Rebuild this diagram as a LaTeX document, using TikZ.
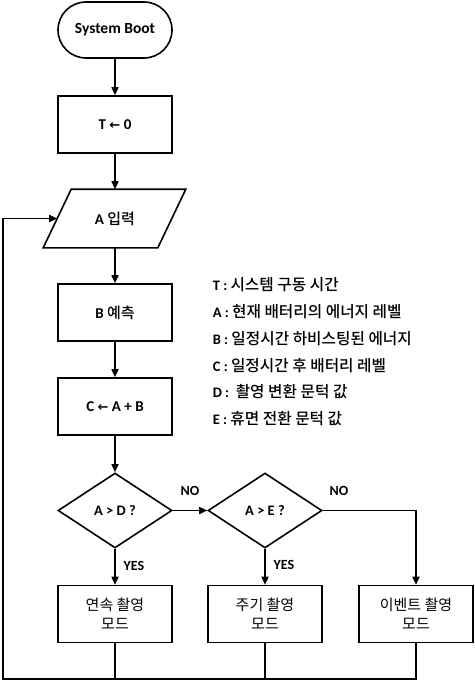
\documentclass[tikz,border=0pt]{standalone}
\usepackage{fontspec}
\setmainfont{Carlito}
\newfontfamily\kr{Noto Sans CJK KR}
\newfontfamily\krm{Noto Sans CJK KR Medium}
\newfontfamily\sym{DejaVu Sans}
\usetikzlibrary{shapes.geometric,shapes.misc,arrows.meta}
\begin{document}
\begin{tikzpicture}[x=1pt,y=-1pt,
  every path/.style={line width=1.6pt},
  arr/.style={-{Triangle[length=8pt,width=7pt]}},
  procbox/.style={draw,rectangle,minimum width=114pt,minimum height=57pt,inner sep=0pt,font=\bfseries\fontsize{15}{18}\selectfont,align=center},
  modebox/.style={draw,rectangle,minimum width=114pt,minimum height=57pt,inner sep=0pt,font=\kr\fontsize{15}{19.5}\selectfont,align=center},
  decbox/.style={draw,diamond,aspect=1.52,minimum width=114pt,minimum height=75pt,inner sep=0pt,font=\bfseries\fontsize{14.5}{17}\selectfont},
  lbl/.style={font=\bfseries\fontsize{14}{17}\selectfont},
  legend/.style={anchor=west,font=\bfseries\fontsize{14.5}{17}\selectfont,inner sep=0pt}]
\useasboundingbox (0,0) rectangle (474,682);

\node[draw,rounded rectangle,minimum width=114pt,minimum height=56pt,inner sep=0pt,font=\bfseries\fontsize{15.5}{18}\selectfont] (boot) at (115,30) {System Boot};
\node[procbox] (tz) at (115,124.5) {T {\sym\bfseries\fontsize{13}{15}\selectfont ←} 0};
\node[rectangle,minimum width=114pt,minimum height=57pt,inner sep=0pt,font=\bfseries\fontsize{15}{18}\selectfont] (ain) at (115,218.5) {A {\krm\mdseries 입력}};
\draw ([xshift=14pt]ain.north west) -- ([xshift=13pt]ain.north east) -- ([xshift=-15pt]ain.south east) -- ([xshift=-14pt]ain.south west) -- cycle;
\node[procbox] (bp) at (115,312.5) {B {\krm\mdseries 예측}};
\node[procbox] (cab) at (115,406.5) {C {\sym\bfseries\fontsize{13}{15}\selectfont ←} A + B};
\node[decbox] (d1) at (115,510.5) {A > D ?};
\node[decbox] (d2) at (265,510.5) {A > E ?};
\node[modebox] (m1) at (115,614) {연속 촬영\\모드};
\node[modebox] (m2) at (265,614) {주기 촬영\\모드};
\node[modebox] (m3) at (416,614) {이벤트 촬영\\모드};

\draw[arr] (boot) -- (tz);
\draw[arr] (tz) -- (ain);
\draw[arr] (ain) -- (bp);
\draw[arr] (bp) -- (cab);
\draw[arr] (cab) -- (d1);
\draw[arr] (d1) -- (m1);
\draw[arr] (d2) -- (m2);
\draw[arr] (d1) -- (d2);
\draw[arr] (d2.east) -| (m3.north);

\node[lbl] (no1) at (190,491) {NO};
\node[lbl] (no2) at (339,491) {NO};
\node[lbl] (yes1) at (134,566) {YES};
\node[lbl] (yes2) at (284,565) {YES};

\coordinate (bl) at (3,679);
\draw (m1.south) -- (m1.south |- bl);
\draw (m2.south) -- (m2.south |- bl);
\draw[arr] (m3.south) |- (bl) -- (bl |- ain.west) -- (ain.west);

\node[legend] (lt) at (212,285) {T : {\krm\mdseries\fontsize{15.7}{18}\selectfont 시스템 구동 시간}};
\node[legend] (la) at (212,312) {A : {\krm\mdseries\fontsize{15.7}{18}\selectfont 현재 배터리의 에너지 레벨}};
\node[legend] (lb) at (212,339) {B : {\krm\mdseries\fontsize{15.7}{18}\selectfont 일정시간 하비스팅된 에너지}};
\node[legend] (lc) at (212,366) {C : {\krm\mdseries\fontsize{15.7}{18}\selectfont 일정시간 후 배터리 레벨}};
\node[legend] (ld) at (212,392) {D : \ {\krm\mdseries\fontsize{15.7}{18}\selectfont 촬영 변환 문턱 값}};
\node[legend] (le) at (212,419) {E : {\krm\mdseries\fontsize{15.7}{18}\selectfont 휴면 전환 문턱 값}};
\end{tikzpicture}
\end{document}
